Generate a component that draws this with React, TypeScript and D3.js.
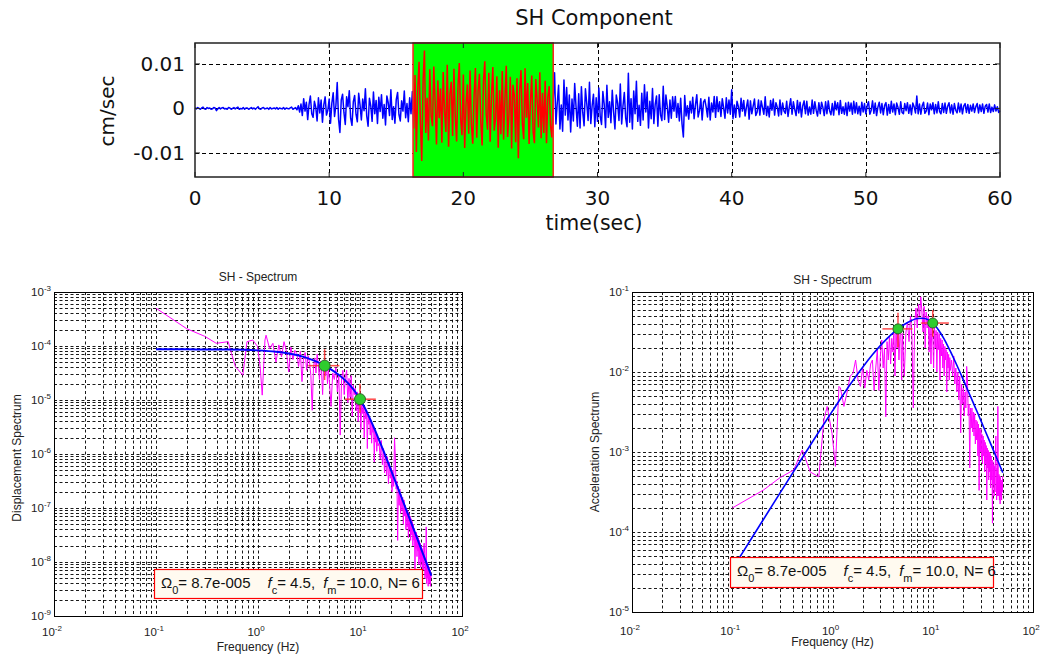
import React from 'react';
import * as d3 from 'd3';

const SANS = '"DejaVu Sans", Verdana, sans-serif';
const ARIAL = '"Liberation Sans", Arial, Helvetica, sans-serif';

// ---------------- Top panel: SH velocity record ----------------
const waveTitle = 'SH Component';
const waveXLabel = 'time(sec)';
const waveYLabel = 'cm/sec';
const waveDt = 0.1; // seconds between samples
// velocity samples, in units of 1e-3 cm/sec (one row = 2 s)
const waveVel = [
  0.1, -0.1, 0.2, 0.0, -0.2, 0.1, 0.3, -0.1, -0.2, 0.2, 0.0, 0.1, -0.2, -0.1, 0.2, 0.1, -0.5, -0.1, 0.2, -0.1,
  0.1, 0.2, -0.1, 0.0, -0.2, 0.2, 0.1, -0.2, 0.0, 0.2, -0.1, 0.1, 0.3, -0.2, 0.0, -0.1, 0.2, -0.2, 0.1, 0.1,
  -0.2, 0.0, 0.2, -0.1, 0.1, -0.2, 0.1, 0.4, -0.1, -0.2, 0.1, 0.2, -0.1, 0.0, 0.1, -0.2, 0.2, -0.1, 0.0, 0.1,
  -0.1, 0.2, -0.2, 0.1, 0.0, -0.1, 0.2, -0.2, 0.1, 0.0, -0.1, 0.1, 0.3, -0.2, 0.0, 0.2, -0.3, 0.6, -0.8, 1.0,
  -1.6, 2.2, -0.6, 1.4, -2.5, 0.9, 2.8, -1.2, -2.0, 1.6, 0.3, -2.8, 2.4, -1.0, 1.9, -3.1, 0.8, 2.6, -1.5, -0.4,
  2.1, -3.3, 1.2, 3.5, -1.8, 0.6, 5.8, -2.4, -5.4, 1.9, 3.2, -0.9, -3.6, 2.6, 0.4, 4.0, -2.2, -3.8, 1.5, 2.9,
  -1.3, -3.0, 3.4, 0.8, -2.6, 2.1, -0.5, 4.4, -1.7, -4.0, 2.3, 0.6, -2.9, 3.7, -1.2, 1.8, -3.4, 2.5, -0.7, 3.1,
  -2.2, 0.9, -3.7, 2.8, 1.3, -1.6, 4.2, -2.5, 0.4, -3.3, 2.0, 3.6, -1.4, -2.8, 1.7, -0.6, 3.9, -2.1, 1.1, -3.0,
  2.4, -1.2, 3.8, -4.5, 7.5, -9.8, 4.2, 10.5, -3.2, -11.8, 6.1, 13.0, -5.5, 2.4, -7.2, 8.8, -1.6, -4.0, 9.4, 1.5,
  -8.1, 6.3, -2.2, 4.5, -7.7, 8.2, -0.6, -5.3, 9.8, -8.6, 3.3, 6.0, -6.2, 8.9, -1.8, -7.4, 5.1, 10.2, -2.5, -6.0,
  7.6, -8.9, 1.0, 5.4, -5.7, 8.5, -3.6, -7.9, 2.8, 9.1, -6.6, 4.0, 7.8, -3.0, -8.3, 6.2, 10.6, -1.2, -4.8, 8.0,
  -7.5, 3.1, 9.3, -5.0, -2.4, 7.2, -8.8, 4.1, -5.8, 8.4, -7.0, 2.2, 9.6, -6.4, -1.5, 7.1, -9.0, 5.3, 3.0, -7.6,
  6.8, -11.2, 4.1, 8.6, -3.3, -6.9, 9.0, -2.1, 5.7, -8.0, 1.4, 7.4, -5.2, -7.8, 6.6, 2.0, -4.3, 8.1, -6.7, 3.5,
  -5.5, 6.2, -7.8, 2.6, 5.0, -3.9, -6.5, 1.8, 8.0, -3.5, 1.2, 5.2, -4.6, 0.8, -5.1, 6.4, -1.5, 4.7, -2.6, 3.0,
  -5.3, 2.1, -2.8, 5.6, 0.4, -4.0, 3.3, -4.4, 4.9, -0.9, -3.9, 4.4, 1.1, -2.7, 5.9, -3.4, 0.6, 3.2, -4.1, 2.4,
  -2.9, 4.6, -1.7, -3.6, 3.8, 0.9, -4.3, 5.2, -2.0, 1.5, -3.2, 4.1, -0.8, -4.6, 3.0, 1.2, -2.7, 5.5, -3.5, 0.6,
  3.6, -2.2, -4.1, 7.9, -3.1, 2.2, -4.6, 3.9, -1.2, 6.1, -2.9, 0.7, -3.8, 3.4, -2.6, 5.3, -0.8, 3.7, -4.4, 1.6,
  -2.3, 4.5, -3.4, 0.9, 2.8, -4.0, 3.1, -1.5, -2.7, 5.0, -2.5, 3.0, 0.4, -3.1, 1.9, -2.2, 2.6, -0.6, 2.7, -2.0,
  1.1, -2.8, 2.3, -3.5, -6.4, 2.9, -1.7, 0.6, -2.4, 1.6, -1.0, 2.5, -2.3, 0.8, 3.1, -1.9, -0.5, 2.2, -2.6, 1.4,
  2.0, 0.3, -1.9, 2.5, -2.6, 1.2, -0.8, 2.7, -2.0, 2.6, -0.7, 1.5, -1.8, 2.2, 0.2, -2.2, 2.4, -1.0, 1.9, -1.3,
  4.2, -2.3, 0.8, -2.0, 1.6, 0.4, -1.9, 2.3, -0.6, 1.8, -1.7, 0.3, 1.9, -2.4, 1.7, -1.2, 0.5, 2.1, -1.6, -0.8,
  1.9, -1.5, 1.7, 0.2, -1.3, 2.6, -1.6, 0.5, -1.9, 1.8, -0.4, 2.1, -1.5, 1.3, 0.3, -1.7, 1.9, -1.4, 1.2, -0.6,
  -1.1, 1.6, -1.8, 0.4, 2.2, -1.3, 1.5, -0.2, -1.6, 1.8, -1.0, 1.4, -1.9, 0.6, 1.7, -1.2, 1.6, -1.5, 0.3, -1.3,
  1.9, -1.1, 1.5, -0.4, -1.7, 1.3, -1.2, 1.4, 0.2, -1.6, 1.5, -1.2, 1.7, -0.5, -1.4, 1.1, -1.5, 1.6, -0.3, 1.3,
  -1.4, 1.8, -1.1, 0.4, -1.3, 1.2, -1.6, 1.4, -0.6, 1.2, -1.3, 1.6, -1.0, 1.3, -1.2, 0.5, -1.5, 1.4, -0.8, 1.1,
  -1.2, 0.6, 1.5, -1.3, -0.4, 1.7, -1.1, 1.2, -1.6, 0.3, 1.4, -1.0, 1.1, -1.4, 0.7, 1.3, -1.5, 0.9, -1.1, 1.6,
  -0.8, 1.0, -1.4, 1.2, 0.2, -1.3, 1.5, -0.9, -1.2, 1.1, -0.5, 1.3, -1.1, 0.8, -1.4, 1.2, 0.4, -1.0, 2.8, -1.2,
  1.0, -1.3, 0.6, 1.4, -1.1, -0.6, 1.2, -1.4, 1.0, -0.3, 1.3, -1.2, 0.9, -1.0, 1.5, -0.7, -1.2, 1.1, -0.9, 1.2,
  -1.1, 0.5, 1.3, -1.0, 0.8, -1.3, 1.1, -0.4, -1.0, 1.2, -0.8, 1.0, -1.2, 0.6, 1.1, -0.9, 0.9, -1.1, 0.7, -0.6,
  1.0, -0.9, 0.4, 1.1, -1.0, 0.8, -0.7, 1.0, -1.1, 0.5, 0.9, -0.8, 1.0, -0.9, 0.3, -0.7, 0.8, -0.6, 0.4, -0.9,
  -0.5,
];
const timeTicks = [0, 10, 20, 30, 40, 50, 60];
const velTicks = [-0.01, 0, 0.01];
const velTickLabels = ['-0.01', '0', '0.01'];
const analysisWindow = [16.25, 26.7];

// ---------------- Spectra ----------------
const specTitle = 'SH - Spectrum';
const freqLabel = 'Frequency (Hz)';
const freqExps = [-2, -1, 0, 1, 2];

// Displacement spectrum (log10), low-frequency points with their own frequencies
const dispLowF = [0.10, 0.20, 0.30, 0.39, 0.51, 0.55, 0.60, 0.71, 0.78, 0.89, 0.99, 1.05, 1.10, 1.17];
const dispLowLog = [-3.30, -3.68, -3.82, -3.95, -3.92, -4.14, -4.38, -4.54, -3.92, -3.89, -4.01, -4.38, -4.91, -3.89];
// 1.2 .. 5.0 Hz every 0.1 Hz
const dispMid1Log = [
  -3.80, -4.05, -3.95, -4.30, -3.98, -4.20, -3.92, -4.10, -4.48, -4.02,
  -4.25, -4.08, -4.14, -4.38, -4.10, -4.66, -4.20, -4.12, -4.45, -4.18,
  -4.30, -4.55, -5.19, -4.40, -4.22, -4.50, -4.15, -4.35, -4.62, -4.28,
  -4.48, -4.90, -4.38, -4.25, -4.55, -4.32, -4.70, -4.45, -4.62,
];
// 5.2 .. 15.0 Hz every 0.2 Hz
const dispMid2Log = [
  -5.12, -4.50, -4.62, -4.40, -4.85, -4.55, -5.65, -4.60, -4.45, -4.90,
  -4.58, -4.45, -5.05, -4.60, -4.95, -4.55, -5.30, -4.72, -4.90, -4.78,
  -5.20, -4.85, -5.40, -4.92, -5.05, -5.55, -5.00, -5.25, -5.10, -5.70,
  -5.15, -5.35, -5.20, -5.90, -5.28, -5.45, -5.30, -5.65, -5.38, -5.80,
  -5.45, -5.60, -5.50, -6.15, -5.58, -5.78, -5.62, -5.95, -5.70, -5.85,
];
// 15.4 .. 49.8 Hz every 0.4 Hz
const dispHighLog = [
  -5.80, -6.10, -5.75, -6.20, -5.90, -6.35, -6.00, -6.40, -6.05, -6.55,
  -6.15, -6.45, -6.25, -6.70, -6.30, -6.60, -5.70, -6.05, -6.65, -6.50,
  -7.60, -6.60, -6.95, -6.65, -7.10, -6.75, -7.05, -6.80, -7.30, -6.85,
  -7.15, -6.95, -7.40, -7.00, -7.35, -7.05, -7.55, -7.10, -7.40, -7.15,
  -7.60, -7.20, -7.50, -7.25, -7.70, -7.30, -7.60, -7.38, -8.25, -7.45,
  -7.75, -7.45, -7.90, -7.50, -7.80, -7.55, -8.05, -7.60, -7.95, -7.65,
  -8.10, -7.70, -8.00, -7.75, -8.20, -7.80, -8.15, -7.70, -7.65, -7.85,
  -8.30, -7.95, -8.25, -7.35, -8.40, -8.00, -8.30, -8.05, -8.45, -8.08,
  -8.35, -8.10, -8.40, -8.15, -8.45, -8.20, -8.30,
];
// fitted displacement model
const dispFitF = [0.1, 0.2, 0.5, 1, 1.5, 2, 2.5, 3, 3.5, 4, 4.5, 5, 6, 7, 8, 9, 10, 11, 12, 13, 14, 15, 17, 20, 22, 25, 28, 30, 35, 40, 45, 50];
const dispFitLog = [
  -4.060, -4.062, -4.066, -4.081, -4.106, -4.139, -4.177, -4.220, -4.266, -4.314, -4.364, -4.413, -4.514, -4.618, -4.730, -4.852,
  -4.985, -5.126, -5.270, -5.414, -5.554, -5.690, -5.944, -6.284, -6.487, -6.759, -7.001, -7.149, -7.480, -7.770, -8.025, -8.253,
];

// Acceleration spectrum (log10)
const accLowF = [0.10, 0.205, 0.30, 0.41, 0.50, 0.60, 0.73, 0.82, 0.885, 0.99, 1.07, 1.16];
const accLowLog = [-3.70, -3.475, -3.32, -3.225, -2.975, -3.25, -3.31, -2.60, -2.43, -2.77, -3.18, -2.18];
const accMid1Log = [
  -2.20, -2.43, -2.25, -2.05, -2.02, -1.85, -2.10, -2.18, -1.94, -2.20,
  -1.98, -2.10, -1.90, -1.85, -2.23, -1.95, -1.72, -2.23, -1.80, -1.60,
  -1.95, -1.70, -2.56, -1.62, -1.85, -1.55, -1.90, -1.58, -1.75, -1.50,
  -2.05, -1.48, -1.70, -1.42, -1.85, -1.55, -1.45, -2.10, -1.52,
];
const accMid2Log = [
  -2.05, -1.50, -1.38, -1.62, -1.30, -1.55, -2.45, -1.40, -1.20, -1.45,
  -1.15, -1.30, -1.06, -1.25, -1.50, -1.18, -1.70, -1.25, -1.45, -1.30,
  -1.75, -1.35, -1.90, -1.40, -1.55, -1.95, -1.42, -1.70, -1.48, -2.00,
  -1.50, -1.72, -1.52, -2.10, -1.58, -1.80, -1.60, -1.95, -1.65, -2.05,
  -1.68, -1.85, -1.72, -2.25, -1.75, -1.95, -1.78, -2.10, -1.82, -1.98,
];
const accHighLog = [
  -1.85, -2.05, -1.80, -2.15, -1.95, -2.25, -2.00, -2.35, -2.05, -2.76,
  -2.15, -2.40, -2.20, -2.55, -2.25, -2.45, -1.93, -2.10, -2.55, -2.40,
  -3.20, -2.45, -2.70, -2.45, -2.75, -2.50, -2.80, -2.52, -2.90, -2.60,
  -2.85, -2.62, -3.05, -2.65, -3.48, -2.70, -3.00, -2.72, -3.10, -2.78,
  -3.15, -2.80, -3.05, -2.85, -3.25, -2.88, -3.15, -2.92, -3.60, -2.95,
  -3.20, -2.98, -3.35, -3.00, -3.25, -3.02, -3.45, -3.05, -3.35, -3.10,
  -3.89, -3.12, -3.40, -3.15, -3.55, -3.18, -3.50, -3.00, -2.80, -3.25,
  -3.60, -3.20, -3.55, -2.43, -3.25, -3.55, -3.28, -3.60, -3.30, -3.65,
  -3.32, -3.55, -3.35, -3.60, -3.38, -3.50, -3.30,
];
const accFitF = [0.1, 0.2, 0.3, 0.5, 0.7, 1, 1.5, 2, 2.5, 3, 3.5, 4, 4.5, 5, 6, 7, 8, 9, 10, 11, 12, 13, 14, 15, 17, 20, 22, 25, 28, 30, 35, 40, 45, 50];
const accFitLog = [
  -4.464, -3.863, -3.511, -3.072, -2.785, -2.486, -2.157, -1.940, -1.785, -1.670, -1.582, -1.513, -1.461, -1.419, -1.362, -1.332,
  -1.328, -1.347, -1.388, -1.446, -1.516, -1.590, -1.666, -1.742, -1.887, -2.086, -2.206, -2.368, -2.510, -2.599, -2.797, -2.971,
  -3.122, -3.258,
];

// corner / max-frequency picks with their error bars [f, log, fLo, fHi, logLo, logHi]
const dispPicks = [
  [4.5, -4.364, 3.11, 6.27, -4.63, -4.06],
  [10.0, -4.985, 7.1, 14.3, -5.24, -4.70],
];
const accPicks = [
  [4.5, -1.461, 3.15, 6.27, -1.69, -1.26],
  [10.0, -1.388, 7.6, 14.5, -1.56, -1.225],
];

const omega0 = '8.7e-005';
const fcText = '4.5';
const fmText = '10.0';
const nText = '6';

const grid = (start: number, step: number, n: number) => d3.range(n).map((i) => +(start + step * i).toFixed(3));
const zipF = (f: number[], v: number[]) => f.map((ff, i) => [ff, v[i]] as [number, number]);

const dispSpec = zipF(
  [...dispLowF, ...grid(1.2, 0.1, dispMid1Log.length), ...grid(5.2, 0.2, dispMid2Log.length), ...grid(15.4, 0.4, dispHighLog.length)],
  [...dispLowLog, ...dispMid1Log, ...dispMid2Log, ...dispHighLog],
);
const accSpec = zipF(
  [...accLowF, ...grid(1.2, 0.1, accMid1Log.length), ...grid(5.2, 0.2, accMid2Log.length), ...grid(15.4, 0.4, accHighLog.length)],
  [...accLowLog, ...accMid1Log, ...accMid2Log, ...accHighLog],
);

function Waveform() {
  const L = 195, R = 1000, T = 43, B = 177;
  const x = d3.scaleLinear().domain([0, 60]).range([L, R]);
  const y = d3.scaleLinear().domain([-0.0154, 0.0147]).range([B, T]);
  const pts = waveVel.map((v, i) => [i * waveDt, v * 1e-3] as [number, number]);
  const line = d3.line<[number, number]>().x((d) => x(d[0])).y((d) => y(d[1]));
  const inWin = pts.filter((d) => d[0] >= analysisWindow[0] - waveDt && d[0] <= analysisWindow[1] + waveDt);
  const wx0 = x(analysisWindow[0]);
  const wx1 = x(analysisWindow[1]);
  return (
    <g>
      <defs>
        <clipPath id="winclip">
          <rect x={wx0} y={T} width={wx1 - wx0} height={B - T} />
        </clipPath>
      </defs>
      <rect x={L} y={T} width={R - L} height={B - T} fill="#fff" />
      {timeTicks.slice(1, -1).map((t) => (
        <line key={'gx' + t} x1={Math.round(x(t)) + 0.5} x2={Math.round(x(t)) + 0.5} y1={T} y2={B} stroke="#000" strokeDasharray="4,3" />
      ))}
      {velTicks.map((v) => (
        <line key={'gy' + v} x1={L} x2={R} y1={Math.round(y(v)) + 0.5} y2={Math.round(y(v)) + 0.5} stroke="#000" strokeDasharray="4,3" />
      ))}
      <path d={line(pts) || ''} fill="none" stroke="#0000ff" strokeWidth={1.5} strokeLinejoin="round" />
      <rect x={wx0} y={T} width={wx1 - wx0} height={B - T} fill="#00ff00" />
      <path d={line(inWin) || ''} fill="none" stroke="#ff0000" strokeWidth={1.5} clipPath="url(#winclip)" />
      <rect x={wx0} y={T} width={wx1 - wx0} height={B - T} fill="none" stroke="#ff2020" strokeWidth={1.5} />
      {timeTicks.map((t) => (
        <g key={'tx' + t}>
          <line x1={x(t)} x2={x(t)} y1={B} y2={B - 5} stroke="#222" />
          <line x1={x(t)} x2={x(t)} y1={T} y2={T + 5} stroke="#222" />
          <text x={x(t)} y={205} textAnchor="middle" fontFamily={SANS} fontSize={20} fill="#111">{t}</text>
        </g>
      ))}
      {velTicks.map((v, i) => (
        <g key={'ty' + v}>
          <line x1={L} x2={L + 5} y1={y(v)} y2={y(v)} stroke="#222" />
          <line x1={R} x2={R - 5} y1={y(v)} y2={y(v)} stroke="#222" />
          <text x={185} y={y(v) + 7} textAnchor="end" fontFamily={SANS} fontSize={20} fill="#111">{velTickLabels[i]}</text>
        </g>
      ))}
      <rect x={L} y={T} width={R - L} height={B - T} fill="none" stroke="#222" strokeWidth={1.5} />
      <text x={594} y={25} textAnchor="middle" fontFamily={SANS} fontSize={21} fill="#111">{waveTitle}</text>
      <text x={594} y={230} textAnchor="middle" fontFamily={SANS} fontSize={20.5} fill="#111">{waveXLabel}</text>
      <text transform="translate(114,111) rotate(-90)" textAnchor="middle" fontFamily={SANS} fontSize={20} fill="#111">{waveYLabel}</text>
    </g>
  );
}

type SpecProps = {
  L: number; R: number; T: number; B: number;
  yExps: number[];
  ylabel: string; ylabelX: number; ylabelY: number;
  spec: [number, number][];
  fitF: number[]; fitLog: number[];
  picks: number[][];
  legend: [number, number, number, number];
  markerR: number;
  fitWidth: number;
  titleY: number; xlabelY: number; xtickY: number;
};

function Spectrum(p: SpecProps) {
  const { L, R, T, B } = p;
  const x = d3.scaleLog().domain([0.01, 100]).range([L, R]);
  const y = d3.scaleLog().domain([10 ** p.yExps[0], 10 ** p.yExps[p.yExps.length - 1]]).range([B, T]);
  const xg: number[] = [];
  for (let e = -2; e < 2; e++) for (let k = 1; k < 10; k++) if (!(e === -2 && k === 1)) xg.push(k * 10 ** e);
  const yg: number[] = [];
  for (let e = p.yExps[0]; e < p.yExps[p.yExps.length - 1]; e++) for (let k = 1; k < 10; k++) if (!(e === p.yExps[0] && k === 1)) yg.push(k * 10 ** e);
  const line = d3.line<[number, number]>().x((d) => x(d[0])).y((d) => y(10 ** d[1]));
  const fitPts = p.fitF.map((f, i) => [f, p.fitLog[i]] as [number, number]);
  const cx = (L + R) / 2;
  const [lx0, ly0, lx1, ly1] = p.legend;
  return (
    <g>
      <rect x={L} y={T} width={R - L} height={B - T} fill="#fff" />
      {xg.map((v, i) => {
        const px = Math.round(x(v)) + 0.5;
        return <line key={'xg' + i} x1={px} x2={px} y1={T} y2={B} stroke="#000" strokeDasharray="3,2.5" strokeWidth={0.9} />;
      })}
      {yg.map((v, i) => {
        const py = Math.round(y(v)) + 0.5;
        return <line key={'yg' + i} x1={L} x2={R} y1={py} y2={py} stroke="#000" strokeDasharray="3,2.5" strokeWidth={0.9} />;
      })}
      <path d={line(p.spec) || ''} fill="none" stroke="#ff00ff" strokeWidth={1} strokeLinejoin="round" />
      <path d={line.curve(d3.curveMonotoneX)(fitPts) || ''} fill="none" stroke="#0000ff" strokeWidth={p.fitWidth} />
      {p.picks.map((k, i) => (
        <g key={'pk' + i}>
          <line x1={x(k[2])} x2={x(k[3])} y1={y(10 ** k[1])} y2={y(10 ** k[1])} stroke="#ff2a2a" strokeWidth={1.5} opacity={0.85} />
          <line x1={x(k[0])} x2={x(k[0])} y1={y(10 ** k[4])} y2={y(10 ** k[5])} stroke="#ff2a2a" strokeWidth={1.5} opacity={0.85} />
          <circle cx={x(k[0])} cy={y(10 ** k[1])} r={p.markerR} fill="#2ecc2e" stroke="#2a6a2a" strokeWidth={1} />
        </g>
      ))}
      <rect x={L + 0.5} y={T + 0.5} width={R - L} height={B - T} fill="none" stroke="#000" strokeWidth={1} />
      {freqExps.map((e) => (
        <text key={'xl' + e} x={x(10 ** e) - 2} y={p.xtickY} textAnchor="middle" fontFamily={ARIAL} fontSize={11.5} fill="#222">
          10<tspan dy={-5} fontSize={8}>{e}</tspan>
        </text>
      ))}
      {p.yExps.map((e) => (
        <text key={'yl' + e} x={L - 3} y={y(10 ** e) + 4} textAnchor="end" fontFamily={ARIAL} fontSize={11.5} fill="#222">
          10<tspan dy={-5} fontSize={8}>{e}</tspan>
        </text>
      ))}
      <text x={cx} y={p.titleY} textAnchor="middle" fontFamily={ARIAL} fontSize={12} fill="#222">{specTitle}</text>
      <text x={cx} y={p.xlabelY} textAnchor="middle" fontFamily={ARIAL} fontSize={12} fill="#222">{freqLabel}</text>
      <text transform={`translate(${p.ylabelX},${p.ylabelY}) rotate(-90)`} textAnchor="middle" fontFamily={ARIAL} fontSize={12} fill="#222">{p.ylabel}</text>
      <rect x={lx0 + 0.5} y={ly0 + 0.5} width={lx1 - lx0} height={ly1 - ly0} fill="#fffaf0" stroke="#ff0000" strokeWidth={1.2} />
      <text x={lx0 + 7} y={ly0 + 19} fontFamily={ARIAL} fontSize={15} fill="#111">
        <tspan>Ω</tspan>
        <tspan dy={6} fontSize={11}>0</tspan>
        <tspan dy={-6}>{'= ' + omega0}</tspan>
        <tspan dx={17} fontStyle="italic">f</tspan>
        <tspan dy={6} fontSize={11}>c</tspan>
        <tspan dy={-6}>{'= ' + fcText + ','}</tspan>
        <tspan dx={8} fontStyle="italic">f</tspan>
        <tspan dy={6} fontSize={11}>m</tspan>
        <tspan dy={-6}>{'= ' + fmText + ','}</tspan>
        <tspan dx={5}>{'N= ' + nText}</tspan>
      </text>
    </g>
  );
}

export default function App() {
  return (
    <svg width={1044} height={658} style={{ position: 'absolute', left: 0, top: 0, background: '#fff' }}>
      <rect width={1044} height={658} fill="#fff" />
      <Waveform />
      <Spectrum
        L={54} R={462} T={292} B={616}
        yExps={[-9, -8, -7, -6, -5, -4, -3]}
        ylabel="Displacement Spectrum" ylabelX={21} ylabelY={458}
        spec={dispSpec} fitF={dispFitF} fitLog={dispFitLog} picks={dispPicks}
        legend={[154, 569, 422, 598]} markerR={5.5} fitWidth={2}
        titleY={281} xlabelY={651} xtickY={636}
      />
      <Spectrum
        L={632} R={1033} T={292} B={612}
        yExps={[-5, -4, -3, -2, -1]}
        ylabel="Acceleration Spectrum" ylabelX={599} ylabelY={452}
        spec={accSpec} fitF={accFitF} fitLog={accFitLog} picks={accPicks}
        legend={[730, 557, 993, 587]} markerR={5} fitWidth={1.6}
        titleY={284} xlabelY={646} xtickY={635}
      />
    </svg>
  );
}
